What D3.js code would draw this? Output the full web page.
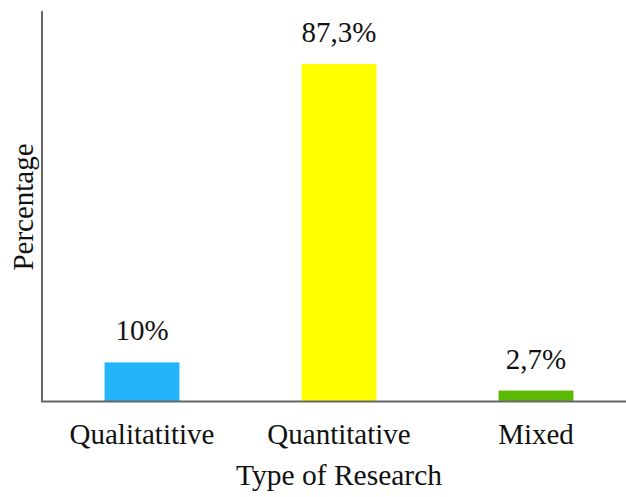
<!DOCTYPE html>
<html>
<head>
<meta charset="utf-8">
<script src="https://cdn.jsdelivr.net/npm/d3@7"></script>
<style>
  html, body { margin: 0; padding: 0; background: #fff; }
  svg { display: block; }
  text { font-family: "Liberation Serif", "Times New Roman", serif; fill: #111; }
</style>
</head>
<body>
<script>
const categories = ["Qualitatitive", "Quantitative", "Mixed"];
const values = [10, 87.3, 2.7];
const valueLabels = ["10%", "87,3%", "2,7%"];
const colors = ["#22B4FB", "#FFFF00", "#5CB800"];
const xTitle = "Type of Research";
const yTitle = "Percentage";

const W = 626, H = 497;
const svg = d3.select("body").append("svg").attr("width", W).attr("height", H);

const baseY = 401;
const x = d3.scaleBand().domain(categories).range([43.5, 634.5])
  .paddingInner(0.62).paddingOuter(0.31);
const y = d3.scaleLinear().domain([0, 87.3]).range([baseY, 64]);

// bars
svg.selectAll("rect.bar").data(values).enter().append("rect")
  .attr("class", "bar")
  .attr("x", (d, i) => x(categories[i]))
  .attr("width", x.bandwidth())
  .attr("y", d => y(d))
  .attr("height", d => baseY - y(d))
  .attr("fill", (d, i) => colors[i]);

// value labels
svg.selectAll("text.val").data(values).enter().append("text")
  .attr("class", "val")
  .attr("x", (d, i) => x(categories[i]) + x.bandwidth() / 2)
  .attr("y", d => y(d) - 22)
  .attr("text-anchor", "middle")
  .style("font-size", "29px")
  .text((d, i) => valueLabels[i]);

// axes lines
svg.append("line").attr("x1", 42).attr("x2", 42).attr("y1", 11).attr("y2", baseY + 1)
  .attr("stroke", "#666").attr("stroke-width", 2);
svg.append("line").attr("x1", 41).attr("x2", W).attr("y1", baseY + 0.5).attr("y2", baseY + 0.5)
  .attr("stroke", "#666").attr("stroke-width", 2);

// category labels
svg.selectAll("text.cat").data(categories).enter().append("text")
  .attr("class", "cat")
  .attr("x", d => x(d) + x.bandwidth() / 2)
  .attr("y", 444)
  .attr("text-anchor", "middle")
  .style("font-size", "29px")
  .text(d => d);

svg.append("text")
  .attr("x", 339).attr("y", 485)
  .attr("text-anchor", "middle")
  .style("font-size", "29.5px")
  .text(xTitle);

svg.append("text")
  .attr("transform", "translate(33,207) rotate(-90)")
  .attr("text-anchor", "middle")
  .style("font-size", "29px")
  .text(yTitle);
</script>
</body>
</html>
